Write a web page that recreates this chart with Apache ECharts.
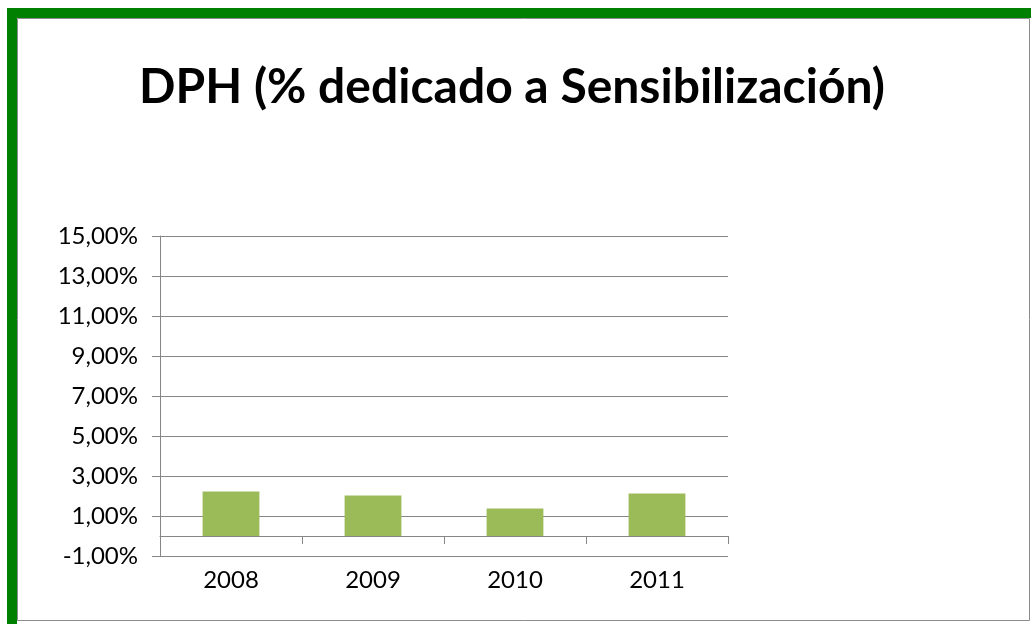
<!DOCTYPE html>
<html>
<head>
<meta charset="utf-8">
<script src="https://cdn.jsdelivr.net/npm/echarts@6/dist/echarts.min.js"></script>
<style>
  html, body { margin: 0; padding: 0; background: #fff; }
  #main { width: 1031px; height: 624px; }
</style>
</head>
<body>
<div id="main"></div>
<script>
// datos
var years = ['2008', '2009', '2010', '2011'];
var valores = [2.22, 2.02, 1.37, 2.12];
var tituloTexto = 'DPH (% dedicado a Sensibilización)';

var myChart = echarts.init(document.getElementById('main'));

myChart.setOption({
    animation: false,
    backgroundColor: '#fff',
    title: {
        text: tituloTexto,
        left: 507,
        top: 59,
        textAlign: 'center',
        textStyle: {
            fontFamily: 'Lato',
            fontWeight: 'bold',
            fontSize: 48,
            color: '#000'
        }
    },
    // marco verde y borde gris
    graphic: [
        { type: 'rect', shape: { x: 7, y: 8, width: 1024, height: 10 }, style: { fill: '#008000' } },
        { type: 'rect', shape: { x: 7, y: 8, width: 10, height: 616 }, style: { fill: '#008000' } },
        { type: 'rect', shape: { x: 17.5, y: 18.5, width: 1012, height: 602 }, style: { fill: 'none', stroke: '#8c8c8c', lineWidth: 1 } }
    ],
    grid: {
        left: 160,
        right: 303,
        top: 236,
        bottom: 68
    },
    xAxis: {
        type: 'category',
        data: years,
        axisLine: { onZero: true, lineStyle: { color: '#868686' } },
        axisTick: { show: true, length: 8, lineStyle: { color: '#868686' } },
        axisLabel: {
            fontFamily: 'Lato',
            fontSize: 24,
            color: '#000',
            margin: 12
        }
    },
    yAxis: {
        type: 'value',
        min: -1,
        max: 15,
        interval: 2,
        axisLine: { show: true, lineStyle: { color: '#868686' } },
        axisTick: { show: true, length: 8, lineStyle: { color: '#868686' } },
        splitLine: { show: true, lineStyle: { color: '#868686' } },
        axisLabel: {
            fontFamily: 'Lato',
            fontSize: 24,
            color: '#000',
            margin: 22,
            padding: [7, 0, 0, 0],
            formatter: function (v) {
                return v.toFixed(2).replace('.', ',') + '%';
            }
        }
    },
    series: [{
        type: 'bar',
        data: valores,
        barWidth: '40%',
        itemStyle: { color: '#9BBB59' }
    }]
});
</script>
</body>
</html>
